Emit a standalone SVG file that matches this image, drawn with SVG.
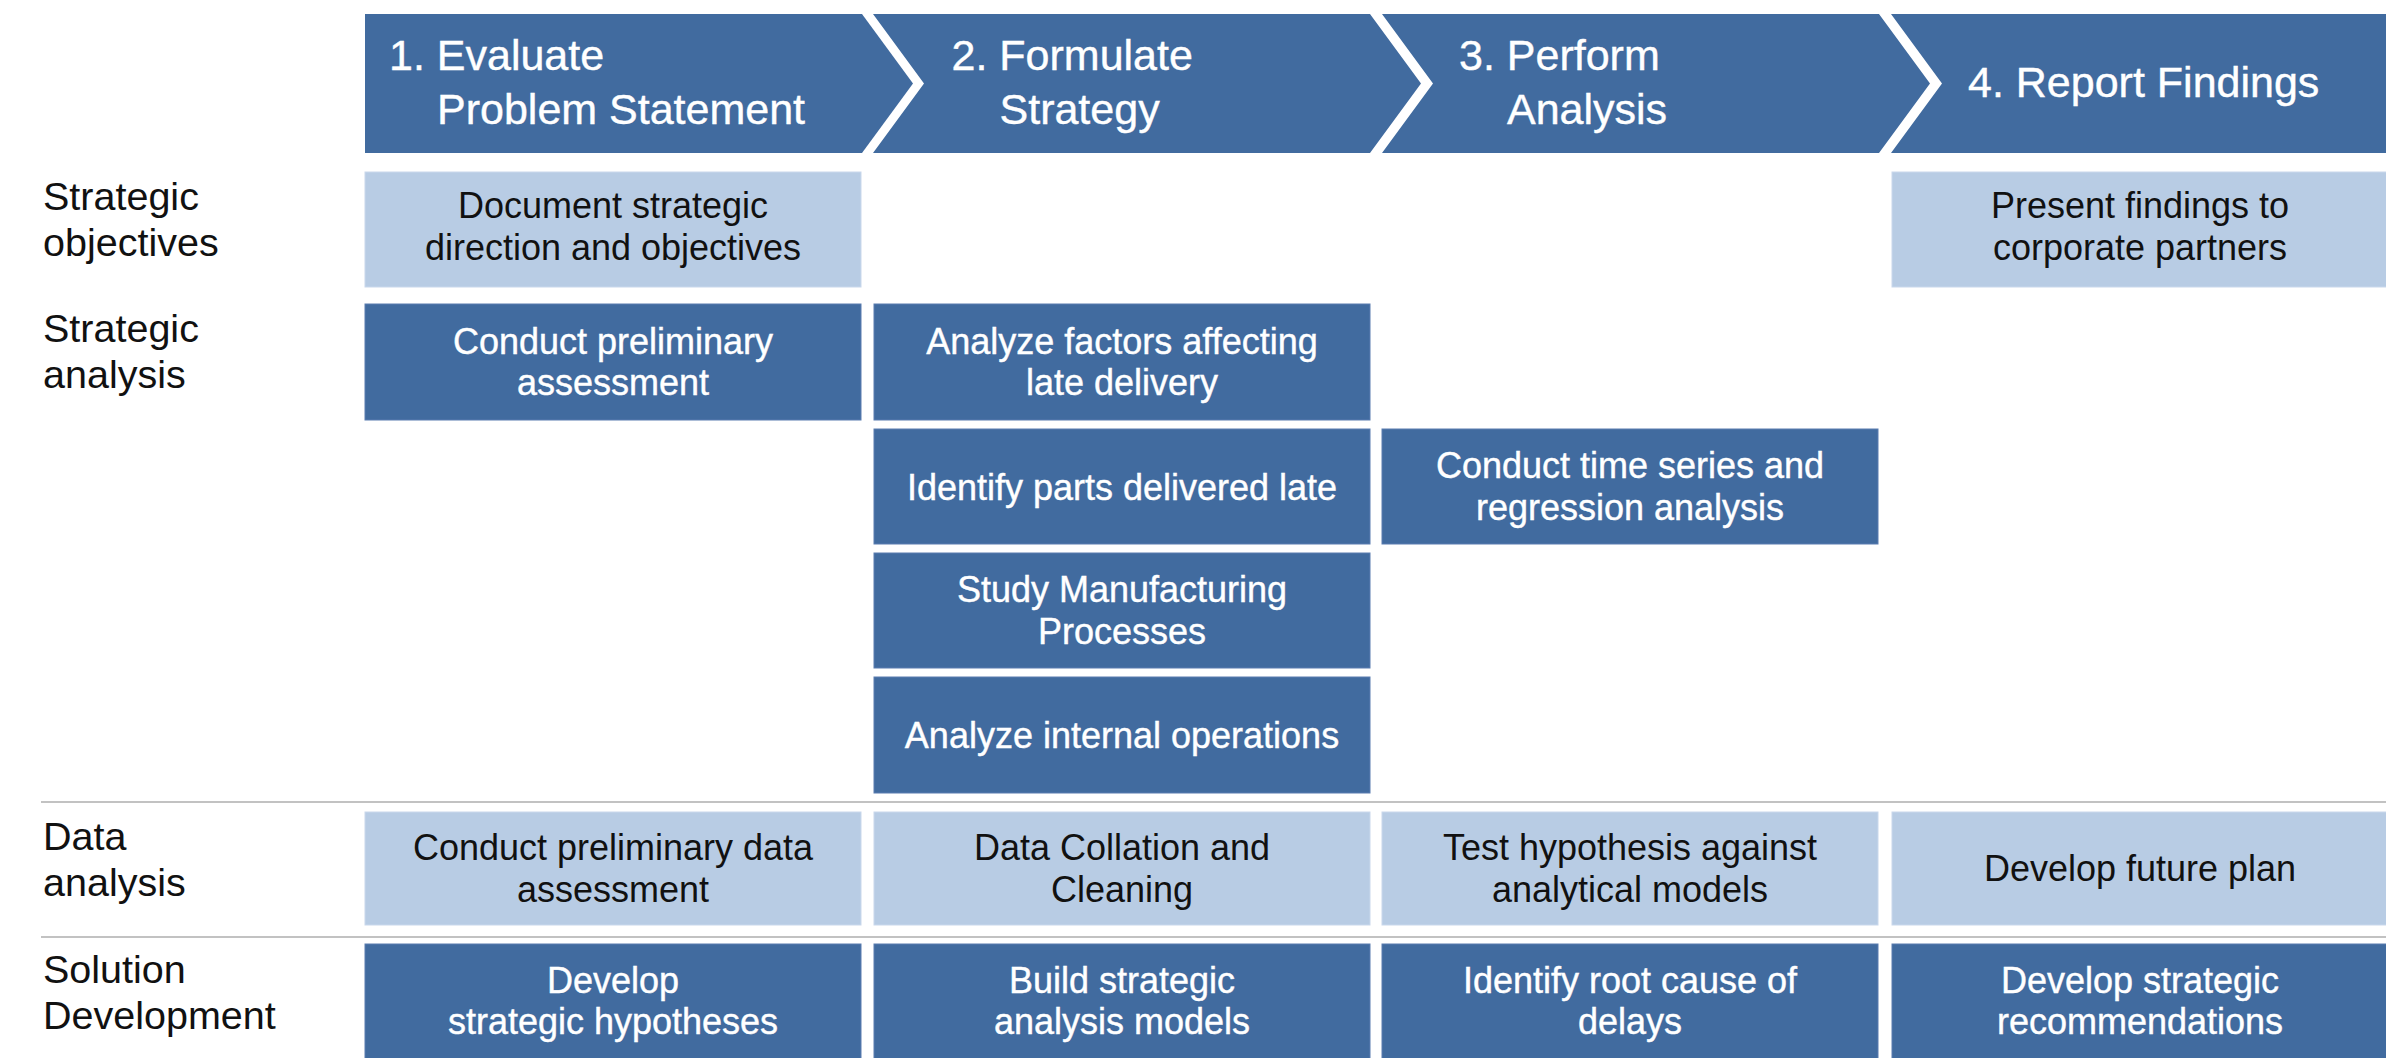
<svg xmlns="http://www.w3.org/2000/svg" width="2386" height="1058" viewBox="0 0 2386 1058">
  <style>
    text { font-family: "Liberation Sans", Arial, Helvetica, sans-serif; }
    .hdr { fill: #416B9F; }
    .dk { fill: #416B9F; stroke: #5a7db0; stroke-width: 1; }
    .lt { fill: #B8CCE4; stroke: #c9d8ec; stroke-width: 1; }
    .ht { fill: #ffffff; font-size: 43px; stroke: #ffffff; stroke-width: 0.4px; }
    .tw { fill: #ffffff; font-size: 36px; text-anchor: middle; stroke: #ffffff; stroke-width: 0.4px; }
    .tb { fill: #111111; font-size: 36px; text-anchor: middle; }
    .lbl { fill: #111111; font-size: 39.5px; }
    .sep { stroke: #c2c2c2; stroke-width: 2; fill: none; }
  </style>
  <rect width="2386" height="1058" fill="#ffffff"/>

  <!-- phase chevrons -->
  <g id="phase-1">
    <polygon class="hdr" points="365,14 862,14 913,83.5 862,153 365,153"/>
    <text class="ht"><tspan x="389" y="70">1. Evaluate</tspan><tspan x="437" y="124">Problem Statement</tspan></text>
  </g>
  <g id="phase-2">
    <polygon class="hdr" points="873,14 1370,14 1421,83.5 1370,153 873,153 924,83.5"/>
    <text class="ht"><tspan x="951.5" y="70">2. Formulate</tspan><tspan x="999.5" y="124">Strategy</tspan></text>
  </g>
  <g id="phase-3">
    <polygon class="hdr" points="1382,14 1879,14 1930,83.5 1879,153 1382,153 1433,83.5"/>
    <text class="ht"><tspan x="1459" y="70">3. Perform</tspan><tspan x="1507" y="124">Analysis</tspan></text>
  </g>
  <g id="phase-4">
    <polygon class="hdr" points="1891,14 2386,14 2386,153 1891,153 1942,83.5"/>
    <text class="ht" x="1968" y="97">4. Report Findings</text>
  </g>

  <!-- row labels -->
  <g id="label-strategic-objectives">
    <text class="lbl"><tspan x="43" y="210">Strategic</tspan><tspan x="43" y="256">objectives</tspan></text>
  </g>
  <g id="label-strategic-analysis">
    <text class="lbl"><tspan x="43" y="342">Strategic</tspan><tspan x="43" y="388">analysis</tspan></text>
  </g>
  <g id="label-data-analysis">
    <text class="lbl"><tspan x="43" y="850">Data</tspan><tspan x="43" y="896">analysis</tspan></text>
  </g>
  <g id="label-solution-development">
    <text class="lbl"><tspan x="43" y="983">Solution</tspan><tspan x="43" y="1029">Development</tspan></text>
  </g>

  <!-- row separators (no connectors between nodes) -->
  <g id="connectors">
    <line class="sep" x1="41" y1="802" x2="2386" y2="802"/>
    <line class="sep" x1="41" y1="937" x2="2386" y2="937"/>
  </g>

  <!-- strategic objectives -->
  <g id="document-direction">
    <rect class="lt" x="365" y="172" width="496" height="115"/>
    <text class="tb"><tspan x="613" y="218">Document strategic</tspan><tspan x="613" y="260">direction and objectives</tspan></text>
  </g>
  <g id="present-findings">
    <rect class="lt" x="1892" y="172" width="500" height="115"/>
    <text class="tb"><tspan x="2140" y="218">Present findings to</tspan><tspan x="2140" y="260">corporate partners</tspan></text>
  </g>

  <!-- strategic analysis -->
  <g id="preliminary-assessment">
    <rect class="dk" x="365" y="304" width="496" height="116"/>
    <text class="tw"><tspan x="613" y="353.5">Conduct preliminary</tspan><tspan x="613" y="395">assessment</tspan></text>
  </g>
  <g id="analyze-factors">
    <rect class="dk" x="874" y="304" width="496" height="116"/>
    <text class="tw"><tspan x="1122" y="353.5">Analyze factors affecting</tspan><tspan x="1122" y="395">late delivery</tspan></text>
  </g>
  <g id="identify-parts">
    <rect class="dk" x="874" y="429" width="496" height="115"/>
    <text class="tw" x="1122" y="499.5">Identify parts delivered late</text>
  </g>
  <g id="time-series">
    <rect class="dk" x="1382" y="429" width="496" height="115"/>
    <text class="tw"><tspan x="1630" y="478">Conduct time series and</tspan><tspan x="1630" y="519.5">regression analysis</tspan></text>
  </g>
  <g id="study-manufacturing">
    <rect class="dk" x="874" y="553" width="496" height="115"/>
    <text class="tw"><tspan x="1122" y="602">Study Manufacturing</tspan><tspan x="1122" y="643.5">Processes</tspan></text>
  </g>
  <g id="internal-operations">
    <rect class="dk" x="874" y="677" width="496" height="116"/>
    <text class="tw" x="1122" y="748">Analyze internal operations</text>
  </g>

  <!-- data analysis -->
  <g id="preliminary-data">
    <rect class="lt" x="365" y="812" width="496" height="113"/>
    <text class="tb"><tspan x="613" y="860">Conduct preliminary data</tspan><tspan x="613" y="901.5">assessment</tspan></text>
  </g>
  <g id="data-collation">
    <rect class="lt" x="874" y="812" width="496" height="113"/>
    <text class="tb"><tspan x="1122" y="860">Data Collation and</tspan><tspan x="1122" y="901.5">Cleaning</tspan></text>
  </g>
  <g id="test-hypothesis">
    <rect class="lt" x="1382" y="812" width="496" height="113"/>
    <text class="tb"><tspan x="1630" y="860">Test hypothesis against</tspan><tspan x="1630" y="901.5">analytical models</tspan></text>
  </g>
  <g id="future-plan">
    <rect class="lt" x="1892" y="812" width="500" height="113"/>
    <text class="tb" x="2140" y="881">Develop future plan</text>
  </g>

  <!-- solution development -->
  <g id="strategic-hypotheses">
    <rect class="dk" x="365" y="944" width="496" height="120"/>
    <text class="tw"><tspan x="613" y="992.5">Develop</tspan><tspan x="613" y="1034">strategic hypotheses</tspan></text>
  </g>
  <g id="analysis-models">
    <rect class="dk" x="874" y="944" width="496" height="120"/>
    <text class="tw"><tspan x="1122" y="992.5">Build strategic</tspan><tspan x="1122" y="1034">analysis models</tspan></text>
  </g>
  <g id="root-cause">
    <rect class="dk" x="1382" y="944" width="496" height="120"/>
    <text class="tw"><tspan x="1630" y="992.5">Identify root cause of</tspan><tspan x="1630" y="1034">delays</tspan></text>
  </g>
  <g id="strategic-recommendations">
    <rect class="dk" x="1892" y="944" width="500" height="120"/>
    <text class="tw"><tspan x="2140" y="992.5">Develop strategic</tspan><tspan x="2140" y="1034">recommendations</tspan></text>
  </g>
</svg>
